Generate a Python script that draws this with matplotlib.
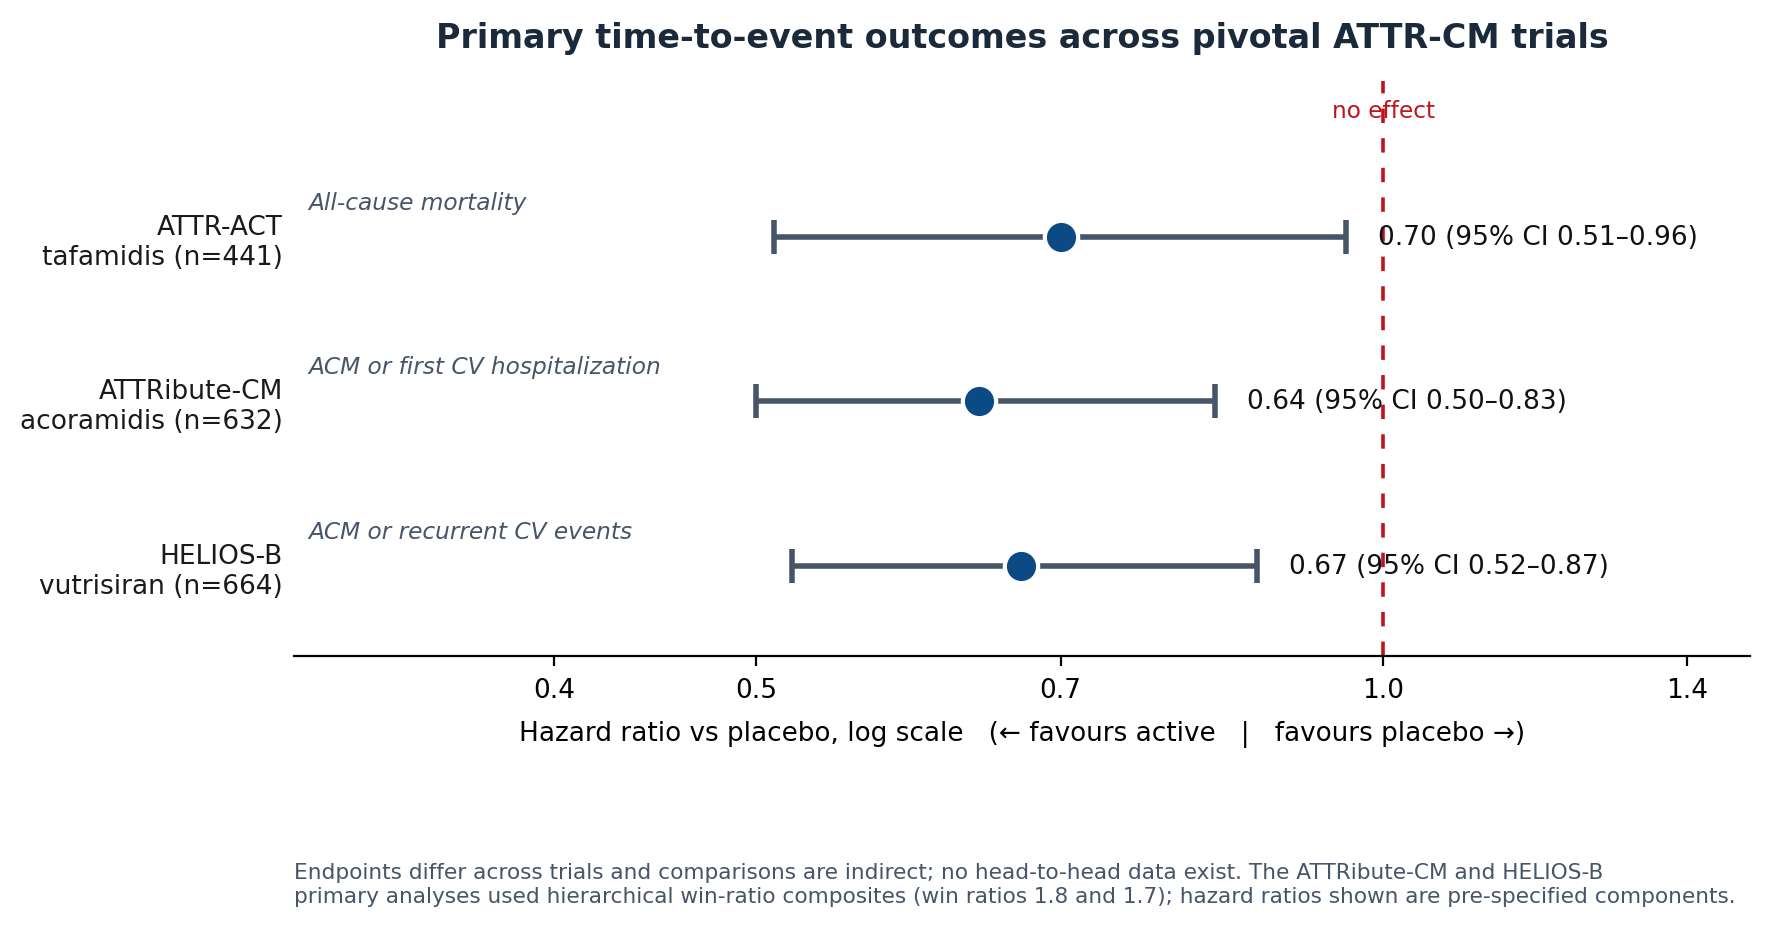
import numpy as np
import matplotlib
matplotlib.use("Agg")
import matplotlib.pyplot as plt
import matplotlib.transforms as mtransforms

# trial data (hazard ratio and 95% CI)
trials = ["ATTR-ACT\ntafamidis (n=441)",
          "ATTRibute-CM\nacoramidis (n=632)",
          "HELIOS-B\nvutrisiran (n=664)"]
endpoints = ["All-cause mortality",
             "ACM or first CV hospitalization",
             "ACM or recurrent CV events"]
hr = np.array([0.70, 0.64, 0.67])
ci_low = np.array([0.51, 0.50, 0.52])
ci_high = np.array([0.96, 0.83, 0.87])
tick_vals = [0.4, 0.5, 0.7, 1.0, 1.4]
tick_labels = ["0.4", "0.5", "0.7", "1.0", "1.4"]

line_col = "#475569"
dot_col = "#0b4a85"
red = "#c0141c"

fig = plt.figure(figsize=(8.86, 4.64), dpi=200)
ax = fig.add_axes([0.1660, 0.292, 0.8215, 0.62])

y = np.arange(len(trials))

ax.axvline(1.0, color=red, lw=1.3, ls=(0, (4, 4.2)), zorder=1)
ax.text(1.0, -0.77, "no effect", color=red, fontsize=8.4, ha="center", va="center")

ax.errorbar(hr, y, xerr=[hr - ci_low, ci_high - hr], fmt="none",
            ecolor=line_col, elinewidth=2, capsize=6, capthick=2, zorder=2)
ax.plot(hr, y, "o", color=dot_col, ms=12, mec="white", mew=1.5, zorder=3)

trans = mtransforms.blended_transform_factory(ax.transAxes, ax.transData)
for i in range(len(trials)):
    ax.text(0.01, i - 0.21, endpoints[i], transform=trans, fontsize=8.4,
            style="italic", color=line_col, ha="left", va="center")
    ax.annotate("%.2f (95%% CI %.2f\u2013%.2f)" % (hr[i], ci_low[i], ci_high[i]),
                xy=(ci_high[i], i), xytext=(11.5, 0), textcoords="offset points",
                fontsize=9.5, color="#111111", ha="left", va="center")

ax.set_xscale("log")
ax.set_xlim(0.3, 1.5)
ax.set_xticks(tick_vals)
ax.set_xticklabels(tick_labels)
ax.minorticks_off()
ax.set_ylim(2.55, -0.95)
ax.set_yticks(y)
ax.set_yticklabels(trials, fontsize=9.5, color="#1a1a1a")
ax.tick_params(axis="y", length=0, pad=4)
ax.tick_params(axis="x", labelsize=9.5, length=3.5, pad=4)

for s in ["top", "right", "left"]:
    ax.spines[s].set_visible(False)

ax.set_xlabel("Hazard ratio vs placebo, log scale   (\u2190 favours active   |   favours placebo \u2192)",
              fontsize=9.45, labelpad=6)
ax.set_title("Primary time-to-event outcomes across pivotal ATTR-CM trials",
             fontsize=12, fontweight="bold", color="#1b2a3a", pad=12)

fig.text(0.1660, 0.023,
         "Endpoints differ across trials and comparisons are indirect; no head-to-head data exist. "
         "The ATTRibute-CM and HELIOS-B\nprimary analyses used hierarchical win-ratio composites "
         "(win ratios 1.8 and 1.7); hazard ratios shown are pre-specified components.",
         fontsize=7.77, color=line_col, ha="left", va="bottom")

fig.savefig("out.png", dpi=200)
